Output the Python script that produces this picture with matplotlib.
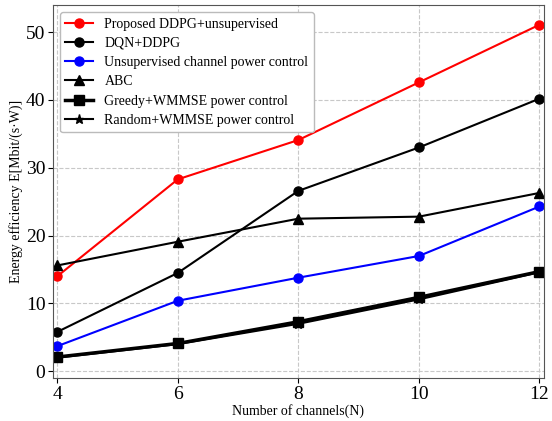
import numpy as np
import matplotlib.pyplot as plt

plt.rcParams['font.family'] = ['Liberation Serif', 'DejaVu Serif']

channels = [4, 6, 8, 10, 12]
proposed = [14.0, 28.3, 34.1, 42.6, 51.1]
dqn_ddpg = [5.8, 14.5, 26.6, 33.0, 40.2]
unsup = [3.7, 10.4, 13.8, 17.0, 24.3]
abc = [15.6, 19.1, 22.5, 22.8, 26.3]
greedy = [2.1, 4.1, 7.3, 10.9, 14.7]
random_w = [2.0, 4.0, 7.0, 10.6, 14.6]

fig = plt.figure(figsize=(5.52, 4.21), dpi=100)
ax = fig.add_axes([0.096, 0.102, 0.889, 0.886])

ax.plot(channels, proposed, 'o-', color='red', lw=1.5, ms=6.5, label='Proposed DDPG+unsupervised')
ax.plot(channels, dqn_ddpg, 'o-', color='black', lw=1.5, ms=6.5, label='DQN+DDPG')
ax.plot(channels, unsup, 'o-', color='blue', lw=1.5, ms=6.5, label='Unsupervised channel power control')
ax.plot(channels, abc, '^-', color='black', lw=1.5, ms=6.5, label='ABC')
ax.plot(channels, greedy, 's-', color='black', lw=2.5, ms=6.5, label='Greedy+WMMSE power control')
ax.plot(channels, random_w, '*-', color='black', lw=1.5, ms=6.5, label='Random+WMMSE power control')

ax.set_xlim(3.93, 12.07)
ax.set_ylim(-1, 54)
ax.set_xticks([4, 6, 8, 10, 12])
ax.set_yticks([0, 10, 20, 30, 40, 50])
ax.tick_params(labelsize=14, pad=2)
for s in ax.spines.values():
    s.set_color('#555555')
ax.grid(True, linestyle='--', color='#c8c8c8', lw=0.8)
ax.set_xlabel('Number of channels(N)', fontsize=10, labelpad=1)
ax.set_ylabel('Energy efficiency E[Mbit/(s·W)]', fontsize=10, labelpad=2)
ax.legend(loc='upper left', fontsize=10, handlelength=2.0, labelspacing=0.45,
          borderpad=0.4, framealpha=1, edgecolor='#bbbbbb')

fig.savefig('out.png', dpi=100)
